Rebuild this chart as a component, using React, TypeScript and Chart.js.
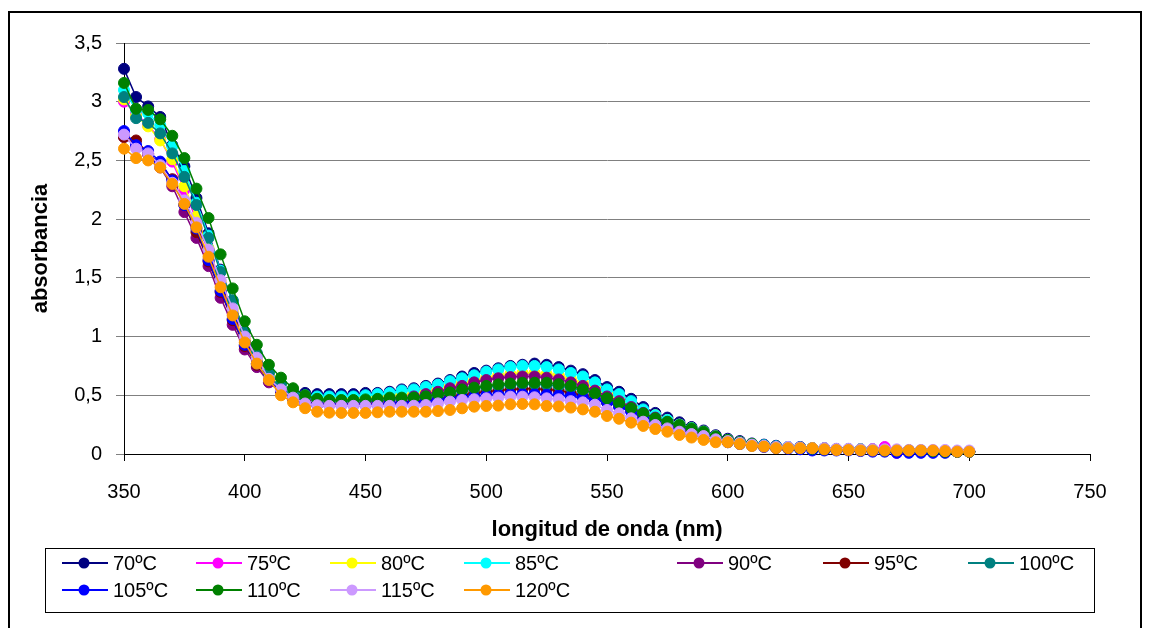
import React, { useEffect, useRef } from 'react';
import { Chart, registerables } from 'chart.js';

Chart.register(...registerables);

const wavelengths = [
  350, 355, 360, 365, 370, 375, 380, 385, 390, 395, 400, 405, 410, 415, 420,
  425, 430, 435, 440, 445, 450, 455, 460, 465, 470,
  475, 480, 485, 490, 495, 500, 505, 510, 515, 520,
  525, 530, 535, 540, 545, 550, 555, 560, 565, 570,
  575, 580, 585, 590, 595, 600, 605, 610, 615, 620,
  625, 630, 635, 640, 645, 650, 655, 660, 665, 670,
  675, 680, 685, 690, 695, 700,
];

const s70 = [3.28, 3.04, 2.96, 2.87, 2.63, 2.45, 2.18, 1.88, 1.57, 1.30, 1.04, 0.84, 0.69, 0.60, 0.54,
  0.52, 0.51, 0.51, 0.51, 0.51, 0.52, 0.52, 0.53, 0.55, 0.56,
  0.58, 0.60, 0.63, 0.66, 0.69, 0.71, 0.73, 0.75, 0.76, 0.77,
  0.76, 0.74, 0.71, 0.68, 0.63, 0.57, 0.53, 0.47, 0.40, 0.35,
  0.31, 0.27, 0.23, 0.20, 0.16, 0.13, 0.11, 0.09, 0.08, 0.07,
  0.06, 0.06, 0.05, 0.05, 0.04, 0.04, 0.04, 0.04, 0.03, 0.03,
  0.03, 0.03, 0.02, 0.02, 0.02, 0.02];
const s75 = [3.00, 2.90, 2.80, 2.68, 2.49, 2.25, 1.99, 1.72, 1.45, 1.20, 0.97, 0.80, 0.66, 0.57, 0.51,
  0.48, 0.47, 0.47, 0.47, 0.47, 0.48, 0.48, 0.49, 0.50, 0.51,
  0.53, 0.55, 0.57, 0.60, 0.62, 0.64, 0.66, 0.67, 0.68, 0.68,
  0.67, 0.66, 0.63, 0.60, 0.56, 0.51, 0.47, 0.42, 0.36, 0.32,
  0.28, 0.24, 0.21, 0.18, 0.15, 0.12, 0.10, 0.08, 0.07, 0.06,
  0.055, 0.05, 0.05, 0.045, 0.04, 0.04, 0.04, 0.04, 0.06, 0.01,
  0.03, 0.03, 0.03, 0.02, 0.02, 0.02];
const s80 = [3.02, 2.88, 2.79, 2.67, 2.51, 2.28, 2.02, 1.75, 1.47, 1.22, 0.98, 0.81, 0.67, 0.58, 0.52,
  0.49, 0.48, 0.47, 0.47, 0.47, 0.48, 0.49, 0.50, 0.51, 0.52,
  0.54, 0.56, 0.58, 0.61, 0.63, 0.65, 0.67, 0.68, 0.69, 0.69,
  0.68, 0.67, 0.64, 0.61, 0.57, 0.52, 0.48, 0.43, 0.37, 0.33,
  0.29, 0.25, 0.22, 0.19, 0.15, 0.12, 0.10, 0.085, 0.07, 0.06,
  0.055, 0.05, 0.05, 0.045, 0.04, 0.04, 0.04, 0.035, 0.035, 0.03,
  0.03, 0.03, 0.025, 0.02, 0.02, 0.02];
const s85 = [3.10, 2.93, 2.90, 2.80, 2.62, 2.41, 2.14, 1.86, 1.56, 1.30, 1.04, 0.85, 0.70, 0.60, 0.53,
  0.50, 0.49, 0.49, 0.49, 0.49, 0.50, 0.51, 0.52, 0.54, 0.55,
  0.57, 0.59, 0.62, 0.645, 0.67, 0.70, 0.72, 0.74, 0.75, 0.75,
  0.74, 0.72, 0.69, 0.66, 0.61, 0.55, 0.51, 0.45, 0.38, 0.33,
  0.29, 0.25, 0.22, 0.19, 0.15, 0.12, 0.10, 0.085, 0.075, 0.065,
  0.06, 0.055, 0.05, 0.045, 0.04, 0.04, 0.04, 0.035, 0.035, 0.03,
  0.03, 0.03, 0.025, 0.02, 0.02, 0.02];
const s90 = [2.70, 2.62, 2.55, 2.44, 2.28, 2.06, 1.84, 1.60, 1.33, 1.10, 0.89, 0.74, 0.61, 0.53, 0.47,
  0.44, 0.43, 0.43, 0.43, 0.43, 0.44, 0.45, 0.46, 0.47, 0.49,
  0.51, 0.53, 0.56, 0.58, 0.61, 0.63, 0.645, 0.655, 0.66, 0.66,
  0.65, 0.635, 0.61, 0.58, 0.54, 0.49, 0.45, 0.40, 0.35, 0.31,
  0.27, 0.23, 0.20, 0.17, 0.14, 0.115, 0.095, 0.08, 0.07, 0.06,
  0.055, 0.05, 0.045, 0.04, 0.04, 0.035, 0.035, 0.03, 0.03, 0.03,
  0.03, 0.025, 0.025, 0.02, 0.02, 0.02];
const s95 = [2.70, 2.67, 2.56, 2.47, 2.34, 2.12, 1.89, 1.64, 1.38, 1.14, 0.92, 0.76, 0.63, 0.54, 0.48,
  0.44, 0.42, 0.42, 0.42, 0.42, 0.42, 0.43, 0.43, 0.44, 0.45,
  0.46, 0.47, 0.49, 0.50, 0.52, 0.53, 0.54, 0.55, 0.555, 0.555,
  0.55, 0.54, 0.52, 0.50, 0.47, 0.44, 0.41, 0.37, 0.32, 0.28,
  0.25, 0.21, 0.18, 0.16, 0.13, 0.11, 0.09, 0.075, 0.065, 0.055,
  0.05, 0.05, 0.045, 0.04, 0.04, 0.035, 0.035, 0.03, 0.03, 0.03,
  0.03, 0.025, 0.025, 0.02, 0.02, 0.02];
const s100 = [3.04, 2.86, 2.82, 2.73, 2.56, 2.36, 2.12, 1.84, 1.55, 1.31, 1.04, 0.86, 0.69, 0.60, 0.52,
  0.48, 0.46, 0.455, 0.45, 0.45, 0.455, 0.46, 0.47, 0.47, 0.48,
  0.49, 0.50, 0.52, 0.54, 0.555, 0.57, 0.58, 0.59, 0.595, 0.595,
  0.59, 0.58, 0.565, 0.54, 0.51, 0.47, 0.43, 0.385, 0.34, 0.30,
  0.27, 0.24, 0.21, 0.18, 0.145, 0.12, 0.10, 0.085, 0.07, 0.06,
  0.055, 0.05, 0.05, 0.045, 0.04, 0.04, 0.04, 0.035, 0.035, 0.03,
  0.03, 0.03, 0.025, 0.02, 0.02, 0.02];
const s105 = [2.75, 2.63, 2.58, 2.49, 2.33, 2.12, 1.92, 1.65, 1.39, 1.15, 0.93, 0.77, 0.63, 0.54, 0.47,
  0.43, 0.42, 0.42, 0.42, 0.42, 0.42, 0.42, 0.43, 0.43, 0.44,
  0.45, 0.46, 0.47, 0.48, 0.49, 0.50, 0.505, 0.51, 0.51, 0.51,
  0.505, 0.50, 0.49, 0.48, 0.46, 0.44, 0.40, 0.36, 0.30, 0.26,
  0.23, 0.20, 0.17, 0.15, 0.12, 0.10, 0.085, 0.07, 0.06, 0.05,
  0.045, 0.04, 0.03, 0.03, 0.03, 0.03, 0.025, 0.02, 0.02, 0.01,
  0.01, 0.01, 0.01, 0.01, 0.02, 0.02];
const s110 = [3.16, 2.94, 2.93, 2.85, 2.71, 2.52, 2.26, 2.01, 1.70, 1.41, 1.13, 0.93, 0.76, 0.65, 0.56,
  0.50, 0.47, 0.46, 0.46, 0.46, 0.465, 0.47, 0.48, 0.48, 0.48,
  0.49, 0.51, 0.525, 0.55, 0.565, 0.58, 0.593, 0.60, 0.607, 0.607,
  0.607, 0.595, 0.58, 0.55, 0.517, 0.475, 0.432, 0.39, 0.346, 0.304,
  0.275, 0.247, 0.218, 0.19, 0.15, 0.12, 0.10, 0.085, 0.07, 0.06,
  0.055, 0.05, 0.045, 0.04, 0.04, 0.04, 0.035, 0.035, 0.03, 0.03,
  0.03, 0.03, 0.025, 0.02, 0.02, 0.02];
const s115 = [2.72, 2.60, 2.56, 2.46, 2.31, 2.16, 1.97, 1.74, 1.48, 1.24, 1.00, 0.82, 0.64, 0.55, 0.48,
  0.43, 0.415, 0.41, 0.41, 0.41, 0.41, 0.41, 0.41, 0.41, 0.411,
  0.417, 0.431, 0.446, 0.46, 0.466, 0.474, 0.48, 0.488, 0.488, 0.483,
  0.474, 0.466, 0.45, 0.44, 0.42, 0.375, 0.346, 0.304, 0.275, 0.247,
  0.218, 0.19, 0.17, 0.153, 0.125, 0.11, 0.095, 0.08, 0.07, 0.06,
  0.06, 0.055, 0.05, 0.05, 0.045, 0.045, 0.04, 0.04, 0.04, 0.04,
  0.035, 0.035, 0.035, 0.035, 0.03, 0.03];
const s120 = [2.60, 2.52, 2.50, 2.44, 2.30, 2.13, 1.93, 1.68, 1.42, 1.18, 0.95, 0.77, 0.63, 0.50, 0.44,
  0.39, 0.36, 0.352, 0.35, 0.35, 0.35, 0.355, 0.36, 0.36, 0.36,
  0.36, 0.366, 0.375, 0.389, 0.403, 0.409, 0.412, 0.423, 0.426, 0.423,
  0.409, 0.405, 0.395, 0.38, 0.36, 0.324, 0.30, 0.267, 0.239, 0.213,
  0.19, 0.162, 0.14, 0.12, 0.10, 0.10, 0.085, 0.068, 0.063, 0.05,
  0.05, 0.05, 0.05, 0.04, 0.034, 0.034, 0.03, 0.03, 0.03, 0.03,
  0.03, 0.03, 0.03, 0.025, 0.02, 0.02];

const seriesLabels = ['70ºC', '75ºC', '80ºC', '85ºC', '90ºC', '95ºC', '100ºC', '105ºC', '110ºC', '115ºC', '120ºC'];
const seriesValues = [s70, s75, s80, s85, s90, s95, s100, s105, s110, s115, s120];
const seriesColors = ['#000080', '#FF00FF', '#FFFF00', '#00FFFF', '#800080', '#800000', '#008080', '#0000FF', '#008000', '#CC99FF', '#FF9900'];

const xTickMin = 350;
const xTickMax = 750;
const xTickStep = 50;
const yTickMin = 0;
const yTickMax = 3.5;
const yTickStep = 0.5;

const FONT = "'Liberation Sans', Arial, sans-serif";

const legendCols = [62, 196, 330, 464, 677, 823, 968];
const legendRows = [563, 590];

const framePlugin = {
  id: 'framePlugin',
  afterDraw(chart: any) {
    const ctx = chart.ctx;
    ctx.save();
    ctx.strokeStyle = '#000';
    ctx.lineWidth = 2;
    ctx.strokeRect(9, 12, 1132, 700);
    ctx.lineWidth = 1;
    ctx.strokeStyle = '#000';
    ctx.strokeRect(45.5, 548.5, 1049, 64);
    ctx.font = `20px ${FONT}`;
    ctx.textBaseline = 'middle';
    ctx.textAlign = 'left';
    seriesLabels.forEach((lab, i) => {
      const row = i < 7 ? 0 : 1;
      const col = i % 7;
      const x = legendCols[col];
      const y = legendRows[row];
      const c = seriesColors[i];
      ctx.strokeStyle = c;
      ctx.lineWidth = 2;
      ctx.beginPath();
      ctx.moveTo(x, y);
      ctx.lineTo(x + 46, y);
      ctx.stroke();
      ctx.fillStyle = c;
      ctx.beginPath();
      ctx.arc(x + 22, y, 5.5, 0, Math.PI * 2);
      ctx.fill();
      ctx.fillStyle = '#000';
      ctx.fillText(lab, x + 51, y + 1);
    });
    ctx.restore();
  },
};

export default function App() {
  const ref = useRef<HTMLCanvasElement>(null);
  useEffect(() => {
    if (!ref.current) return;
    const n = seriesLabels.length;
    const chart = new Chart(ref.current, {
      type: 'line',
      data: {
        datasets: seriesLabels.map((lab, i) => ({
          label: lab,
          data: wavelengths.map((w, k) => ({ x: w, y: seriesValues[i][k] })),
          borderColor: seriesColors[i],
          backgroundColor: seriesColors[i],
          pointBackgroundColor: seriesColors[i],
          pointBorderColor: seriesColors[i],
          borderWidth: 1.5,
          pointRadius: 5.5,
          pointBorderWidth: 1,
          tension: 0,
          fill: false,
          clip: false as any,
          order: n - 1 - i,
        })),
      },
      options: {
        animation: false,
        responsive: false,
        devicePixelRatio: 1,
        layout: { padding: { left: 0, top: 43, right: 61, bottom: 78 } },
        plugins: {
          legend: { display: false },
          tooltip: { enabled: false },
        },
        scales: {
          x: {
            type: 'linear',
            min: xTickMin,
            max: xTickMax,
            ticks: {
              stepSize: xTickStep,
              color: '#000',
              font: { family: FONT, size: 20 },
              padding: 19,
              maxRotation: 0,
            },
            grid: { drawOnChartArea: false, drawTicks: true, tickLength: 7, color: '#000' },
            border: { color: '#000', width: 1 },
            title: {
              display: true,
              text: 'longitud de onda (nm)',
              color: '#000',
              font: { family: FONT, size: 22, weight: 'bold' },
              padding: { top: 0, bottom: 7 },
            },
            afterFit: (s: any) => { s.height = 96; },
          },
          y: {
            type: 'linear',
            min: yTickMin,
            max: yTickMax,
            ticks: {
              stepSize: yTickStep,
              color: '#000',
              font: { family: FONT, size: 20 },
              padding: 14,
              callback: (v: any) => String(v).replace('.', ','),
            },
            grid: { color: '#808080', tickLength: 8, drawTicks: true },
            border: { color: '#000', width: 1 },
            title: {
              display: true,
              text: 'absorbancia',
              color: '#000',
              font: { family: FONT, size: 22, weight: 'bold' },
              padding: { top: 28, bottom: 0 },
            },
            afterFit: (s: any) => { s.width = 124; },
          },
        },
      },
      plugins: [framePlugin],
    });
    return () => chart.destroy();
  }, []);
  return (
    <canvas
      ref={ref}
      width={1151}
      height={628}
      style={{ position: 'fixed', left: 0, top: 0, width: 1151, height: 628, display: 'block', background: '#fff' }}
    />
  );
}
